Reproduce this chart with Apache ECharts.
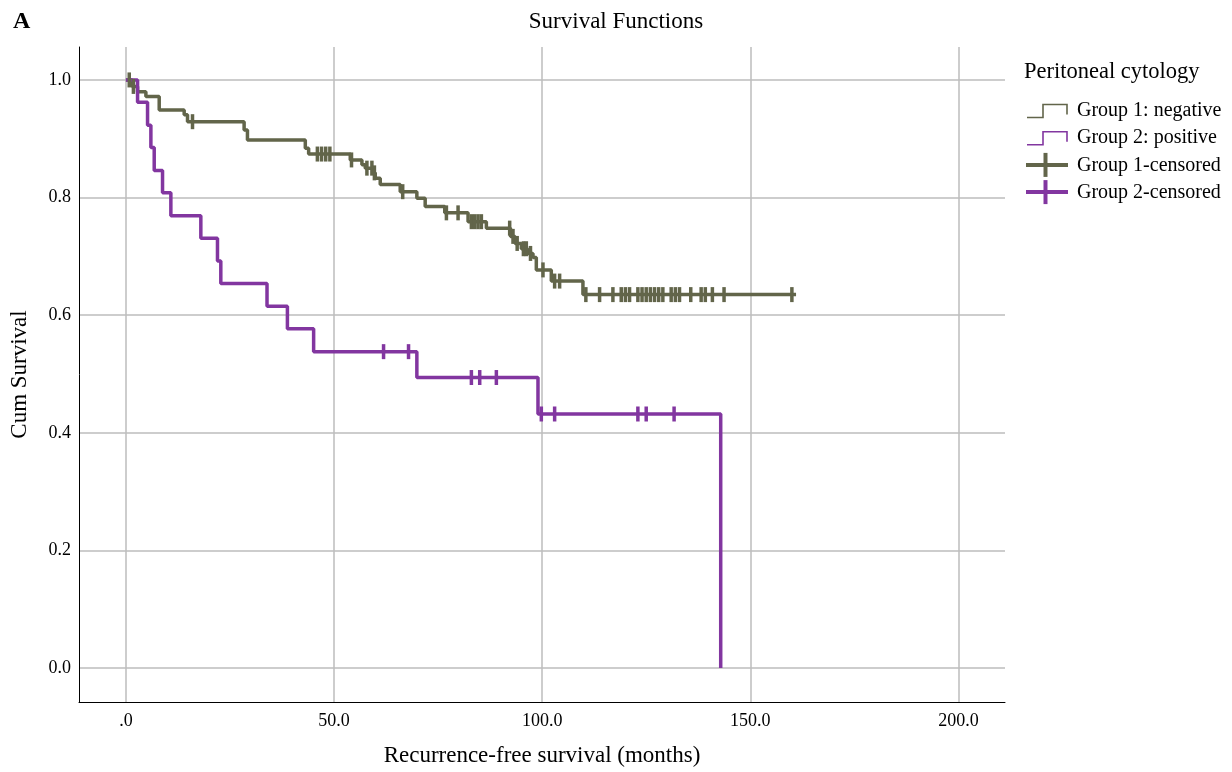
<!DOCTYPE html>
<html>
<head>
<meta charset="utf-8">
<title>Survival Functions</title>
<script src="https://cdn.jsdelivr.net/npm/echarts@6/dist/echarts.min.js"></script>
<style>
  html, body { margin: 0; padding: 0; background: #fff; }
  #chart { width: 1232px; height: 772px; }
</style>
</head>
<body>
<div id="chart"></div>
<script>
// ticks
var xTicks = [0, 50, 100, 150, 200];
var yTicks = [0, 0.2, 0.4, 0.6, 0.8, 1.0];

// group 1: negative  (event times / survival after event)
var g1Times = [0, 1.5, 2.8, 4.8, 8.0, 14.0, 14.8, 28.4, 29.2, 43.1, 43.9, 53.9, 56.7, 57.5,
  59.3, 59.9, 61.1, 65.9, 69.9, 71.9, 76.6, 82.2, 86.6, 92.4, 93.5, 95.0, 96.5, 97.8,
  98.6, 102.2, 109.8, 161.0];
var g1Surv = [1.0, 0.989, 0.980, 0.972, 0.949, 0.941, 0.929, 0.915, 0.898, 0.884, 0.874, 0.864, 0.856, 0.850,
  0.842, 0.833, 0.822, 0.810, 0.799, 0.785, 0.774, 0.759, 0.748, 0.734, 0.722, 0.713, 0.705, 0.698,
  0.677, 0.658, 0.635, 0.635];
var g1Censor = [0.8, 1.8, 16.0, 46.0, 47.0, 48.0, 49.0, 54.2, 57.9, 59.1, 59.7, 66.5, 77.0, 79.8,
  83.0, 83.8, 84.6, 85.4, 92.2, 93.0, 94.0, 95.5, 96.2, 97.2, 100.2, 103.0, 104.2,
  110.5, 113.8, 117.0, 119.0, 120.0, 121.0, 123.0, 124.0, 125.0, 126.0, 127.0, 128.0, 129.0,
  131.0, 132.0, 133.0, 135.7, 138.2, 139.2, 140.9, 143.7, 160.0];

// group 2: positive
var g2Times = [0, 2.8, 5.2, 6.0, 6.8, 8.8, 10.8, 18.0, 22.0, 22.8, 33.9, 38.8, 45.1, 69.9, 99.0, 142.9];
var g2Surv = [1.0, 0.962, 0.923, 0.885, 0.846, 0.808, 0.769, 0.731, 0.692, 0.654, 0.615, 0.577, 0.538, 0.494, 0.432, 0];
var g2Censor = [61.9, 67.9, 83.0, 85.0, 89.0, 99.8, 103.0, 123.0, 125.0, 131.7];

var green = '#62654a';
var purple = '#8236a0';
var font = 'Liberation Serif';

function survAt(times, surv, t) {
  var s = 1;
  for (var i = 0; i < times.length; i++) {
    if (times[i] <= t) s = surv[i];
  }
  return s;
}
function stepData(times, surv) {
  return times.map(function (t, i) { return [t, surv[i]]; });
}
function censorData(c, times, surv) {
  return c.map(function (t) { return [t, survAt(times, surv, t)]; });
}

// legend rows drawn by hand
var legendRows = [
  { name: 'Group 1: negative', color: green, kind: 'step' },
  { name: 'Group 2: positive', color: purple, kind: 'step' },
  { name: 'Group 1-censored', color: green, kind: 'cross' },
  { name: 'Group 2-censored', color: purple, kind: 'cross' }
];
var legendGraphics = [{
  type: 'text', left: 1024, top: 61,
  style: { text: 'Peritoneal cytology', font: '22.5px "Liberation Serif"', fill: '#000' }
}];
legendRows.forEach(function (r, i) {
  var cy = 110.5 + i * 27.2;
  if (r.kind === 'step') {
    legendGraphics.push({
      type: 'polyline',
      shape: { points: [[1027, cy + 7], [1043, cy + 7], [1043, cy - 6], [1067, cy - 6], [1067, cy + 4]] },
      style: { stroke: r.color, lineWidth: 1.6, fill: null }
    });
  } else {
    legendGraphics.push({
      type: 'line', shape: { x1: 1026, y1: cy, x2: 1068, y2: cy },
      style: { stroke: r.color, lineWidth: 4 }
    });
    legendGraphics.push({
      type: 'line', shape: { x1: 1045.5, y1: cy - 12, x2: 1045.5, y2: cy + 12 },
      style: { stroke: r.color, lineWidth: 4 }
    });
  }
  legendGraphics.push({
    type: 'text', left: 1077, top: cy - 9.5,
    style: { text: r.name, font: '20px "Liberation Serif"', fill: '#000' }
  });
});

var option = {
  animation: false,
  backgroundColor: '#fff',
  title: [
    { text: 'A', left: 8, top: 5, textStyle: { fontFamily: font, fontSize: 24, fontWeight: 'bold', color: '#000' } },
    { text: 'Survival Functions', left: 'center', top: 5, textStyle: { fontFamily: font, fontSize: 23, fontWeight: 'normal', color: '#000' } }
  ],
  grid: { left: 78, top: 47, width: 927, height: 656, containLabel: false },
  xAxis: {
    type: 'value',
    min: -11.27, max: 211.2,
    name: 'Recurrence-free survival (months)',
    nameLocation: 'middle', nameGap: 42,
    nameTextStyle: { fontFamily: font, fontSize: 23, color: '#000' },
    axisLine: { onZero: false, lineStyle: { color: '#000', width: 1 } },
    axisTick: { show: false, customValues: xTicks },
    axisLabel: {
      customValues: xTicks, margin: 10,
      fontFamily: font, fontSize: 18, color: '#000',
      formatter: function (v) { return v === 0 ? '.0' : v.toFixed(1); }
    },
    splitLine: { show: true, lineStyle: { color: '#bdbdbd', width: 1.5 } }
  },
  yAxis: {
    type: 'value',
    min: -0.0577, max: 1.056,
    name: 'Cum Survival',
    nameLocation: 'middle', nameGap: 48,
    nameTextStyle: { fontFamily: font, fontSize: 23, color: '#000' },
    axisLine: { show: true, onZero: false, lineStyle: { color: '#000', width: 1 } },
    axisTick: { show: false, customValues: yTicks },
    axisLabel: {
      customValues: yTicks, margin: 8,
      fontFamily: font, fontSize: 18, color: '#000',
      formatter: function (v) { return v.toFixed(1); }
    },
    splitLine: { show: true, lineStyle: { color: '#bdbdbd', width: 1.5 } }
  },
  graphic: legendGraphics,
  series: [
    {
      name: 'Group 1: negative', type: 'line', step: 'end', showSymbol: false,
      data: stepData(g1Times, g1Surv), z: 3,
      lineStyle: { color: green, width: 3.5 }, itemStyle: { color: green }
    },
    {
      name: 'Group 2: positive', type: 'line', step: 'end', showSymbol: false,
      data: stepData(g2Times, g2Surv), z: 3,
      lineStyle: { color: purple, width: 3.5 }, itemStyle: { color: purple }
    },
    {
      name: 'Group 1-censored', type: 'scatter', symbol: 'rect', symbolSize: [3.5, 15],
      data: censorData(g1Censor, g1Times, g1Surv), z: 4,
      itemStyle: { color: green, opacity: 1 }
    },
    {
      name: 'Group 2-censored', type: 'scatter', symbol: 'rect', symbolSize: [3.5, 15],
      data: censorData(g2Censor, g2Times, g2Surv), z: 4,
      itemStyle: { color: purple, opacity: 1 }
    }
  ]
};

var chart = echarts.init(document.getElementById('chart'));
chart.setOption(option);
</script>
</body>
</html>
